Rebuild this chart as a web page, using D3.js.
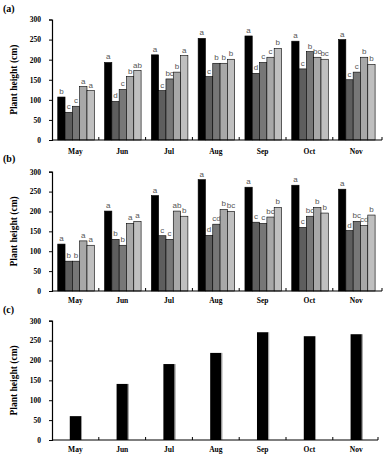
<!DOCTYPE html>
<html><head><meta charset="utf-8">
<script src="https://cdn.jsdelivr.net/npm/d3@7"></script>
<style>body{margin:0;background:#fff}svg{display:block}</style>
</head><body>
<svg id="c" width="390" height="466"></svg>
<script>
const months = ["May","Jun","Jul","Aug","Sep","Oct","Nov"];
const seriesNames = ["s1","s2","s3","s4","s5"];
const seriesColors = ["#000000","#5e5e5e","#777777","#a8a8a8","#bfbfbf"];
const yTicks = [0,50,100,150,200,250,300];

// Panel (a) values by month, 5 series each
const aValues = [
  [107, 69, 84, 133, 123],
  [193, 96, 126, 158, 173],
  [212, 123, 152, 169, 210],
  [253, 158, 191, 191, 201],
  [259, 166, 193, 206, 228],
  [246, 177, 220, 206, 201],
  [250, 150, 169, 206, 188]
];
const aLetters = [
  ["b","c","c","a","a"],
  ["a","d","c","b","ab"],
  ["a","c","bc","b","a"],
  ["a","c","b","b","b"],
  ["a","d","c","c","b"],
  ["a","c","b","bc","bc"],
  ["a","c","c","b","b"]
];
// Panel (b)
const bValues = [
  [118, 75, 75, 126, 115],
  [201, 130, 115, 170, 175],
  [240, 139, 130, 201, 188],
  [280, 140, 168, 205, 200],
  [261, 173, 170, 186, 210],
  [266, 160, 188, 210, 196],
  [256, 152, 175, 165, 191]
];
const bLetters = [
  ["a","b","b","a","a"],
  ["a","b","b","a","a"],
  ["a","c","c","ab","b"],
  ["a","d","cd","b","bc"],
  ["a","c","c","bc","b"],
  ["a","c","bc","b","b"],
  ["a","d","bc","cd","b"]
];
// Panel (c)
const cValues = [60, 141, 191, 219, 271, 261, 266];

const svg = d3.select("#c");
const serif = "'Liberation Serif','Times New Roman',serif";

function drawAxes(g, x, y, left, right, yTop, yBot, labelY, panelLabel, panelLabelY){
  // y axis
  const ya = g.append("g").attr("transform",`translate(${left},0)`)
    .call(d3.axisLeft(y).tickValues(yTicks).tickSize(3).tickPadding(8));
  ya.select(".domain").attr("stroke","#000").attr("stroke-width",1.2);
  ya.selectAll("text").attr("font-family",serif).attr("font-weight","bold").attr("font-size","7.5px").attr("fill","#000");
  // x axis baseline
  g.append("line").attr("x1",left).attr("x2",right).attr("y1",yBot).attr("y2",yBot)
    .attr("stroke","#000").attr("stroke-width",1.2);
  // group separator ticks (upward)
  months.forEach((m,i)=>{
    if(i===0) return;
    const xx = x(m);
    g.append("line").attr("x1",xx).attr("x2",xx).attr("y1",yBot).attr("y2",yBot-3).attr("stroke","#000");
  });
  g.append("line").attr("x1",right).attr("x2",right).attr("y1",yBot).attr("y2",yBot-3).attr("stroke","#000");
  // month labels
  g.selectAll(".ml").data(months).enter().append("text")
    .attr("x",d=>x(d)+x.bandwidth()/2).attr("y",labelY)
    .attr("text-anchor","middle").attr("font-family",serif).attr("font-weight","bold")
    .attr("font-size","7.5px").text(d=>d);
  // y title
  const cy = (yTop+yBot)/2;
  g.append("text").attr("transform",`translate(17,${cy}) rotate(-90)`)
    .attr("text-anchor","middle").attr("font-family",serif).attr("font-weight","bold")
    .attr("font-size","9.5px").text("Plant height (cm)");
  g.append("text").attr("x",3).attr("y",panelLabelY).attr("font-family",serif)
    .attr("font-weight","bold").attr("font-size","10px").text(panelLabel);
}

function groupedPanel(values, letters, yTop, yBot, labelY, panelLabel, panelLabelY){
  const left = 52, right = 382;
  const g = svg.append("g");
  const x0 = d3.scaleBand().domain(months).range([left, left + 7*46.8]).padding(0);
  const x1 = d3.scaleBand().domain(seriesNames).range([0, x0.bandwidth()]).paddingInner(0).paddingOuter(0.7).align(0.56);
  const y = d3.scaleLinear().domain([0,300]).range([yBot, yTop]);
  months.forEach((m,i)=>{
    const gg = g.append("g").attr("transform",`translate(${x0(m)},0)`);
    gg.selectAll("rect").data(seriesNames).enter().append("rect")
      .attr("x",s=>x1(s)).attr("y",(s,j)=>y(values[i][j]))
      .attr("width",x1.bandwidth()).attr("height",(s,j)=>yBot-y(values[i][j]))
      .attr("fill",(s,j)=>seriesColors[j]).attr("stroke","#000").attr("stroke-width",0.6);
    gg.selectAll("text").data(seriesNames).enter().append("text")
      .attr("x",s=>x1(s)+x1.bandwidth()/2).attr("y",(s,j)=>y(values[i][j])-3)
      .attr("text-anchor","middle").attr("font-family","'Liberation Sans',Arial,sans-serif")
      .attr("font-size","8px").attr("fill","#555").text((s,j)=>letters[i][j]);
  });
  drawAxes(g, x0, y, left, right, yTop, yBot, labelY, panelLabel, panelLabelY);
}

groupedPanel(aValues, aLetters, 19.5, 140, 154, "(a)", 12);
groupedPanel(bValues, bLetters, 171.7, 291, 303, "(b)", 162);

// panel (c)
(function(){
  const left = 52, right = 378, yTop = 320.7, yBot = 440;
  const g = svg.append("g");
  const x = d3.scaleBand().domain(months).range([left, left + 7*46.8]).padding(0);
  const y = d3.scaleLinear().domain([0,300]).range([yBot, yTop]);
  const w = x.bandwidth()*0.24;
  g.selectAll("rect").data(cValues).enter().append("rect")
    .attr("x",(d,i)=>x(months[i])+x.bandwidth()/2-w/2).attr("y",d=>y(d))
    .attr("width",w).attr("height",d=>yBot-y(d)).attr("fill","#000");
  g.selectAll(".sh").data(cValues).enter().append("line")
    .attr("x1",(d,i)=>x(months[i])+x.bandwidth()/2+w/2+0.5).attr("x2",(d,i)=>x(months[i])+x.bandwidth()/2+w/2+0.5)
    .attr("y1",d=>y(d)).attr("y2",yBot).attr("stroke","#999").attr("stroke-width",1);
  drawAxes(g, x, y, left, right, yTop, yBot, 452, "(c)", 313);
})();
</script>
</body></html>
